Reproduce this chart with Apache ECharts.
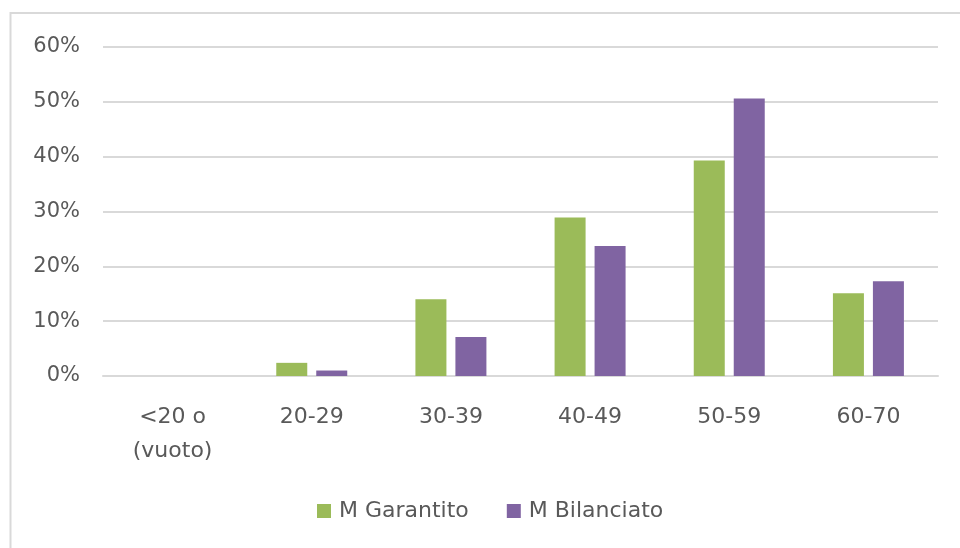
<!DOCTYPE html>
<html>
<head>
<meta charset="utf-8">
<script src="https://cdn.jsdelivr.net/npm/echarts@6/dist/echarts.min.js"></script>
<style>
  html, body { margin: 0; padding: 0; background: #fff; }
  #chart { width: 960px; height: 548px; }
</style>
</head>
<body>
<div id="chart"></div>
<script>
// Age bands on the category axis
const categories = ['<20 o\n(vuoto)', '20-29', '30-39', '40-49', '50-59', '60-70'];
// Share of members per age band, in percent
const garantito = [null, 2.4, 14.0, 28.9, 39.3, 15.1];
const bilanciato = [null, 1.0, 7.1, 23.7, 50.6, 17.3];
// Value axis ticks
const yTicks = [0, 10, 20, 30, 40, 50, 60];

const font = '"DejaVu Sans", "Noto Sans", sans-serif';
const chart = echarts.init(document.getElementById('chart'), null, { renderer: 'canvas' });

chart.setOption({
  animation: false,
  backgroundColor: '#ffffff',
  graphic: [{
    type: 'rect',
    shape: { x: 10.5, y: 13, width: 1000, height: 600 },
    style: { fill: 'none', stroke: '#d9d9d9', lineWidth: 2 },
    silent: true
  }],
  grid: { left: 103, right: 22, top: 47, bottom: 172, containLabel: false },
  legend: {
    top: 495,
    left: 312,
    itemWidth: 14,
    itemHeight: 14,
    itemGap: 38,
    icon: 'rect',
    textStyle: { color: '#595959', fontSize: 22, fontFamily: font, padding: [0, 0, 0, 3] },
    data: ['M Garantito', 'M Bilanciato']
  },
  xAxis: {
    type: 'category',
    data: categories,
    axisLine: { lineStyle: { color: '#d9d9d9', width: 2 } },
    axisTick: { show: false },
    axisLabel: {
      color: '#595959',
      fontSize: 22,
      fontFamily: font,
      margin: 24,
      lineHeight: 34
    }
  },
  yAxis: {
    type: 'value',
    min: yTicks[0],
    max: yTicks[yTicks.length - 1],
    interval: 10,
    axisLine: { show: false },
    axisTick: { show: false },
    splitLine: { lineStyle: { color: '#d9d9d9', width: 2 } },
    axisLabel: {
      color: '#595959',
      fontSize: 21,
      fontFamily: font,
      margin: 23,
      formatter: v => v + '%'
    }
  },
  series: [
    {
      name: 'M Garantito',
      type: 'bar',
      data: garantito,
      barWidth: 31,
      barGap: '29%',
      itemStyle: { color: '#9bbb59' }
    },
    {
      name: 'M Bilanciato',
      type: 'bar',
      data: bilanciato,
      barWidth: 31,
      itemStyle: { color: '#8064a2' }
    }
  ]
});
</script>
</body>
</html>
